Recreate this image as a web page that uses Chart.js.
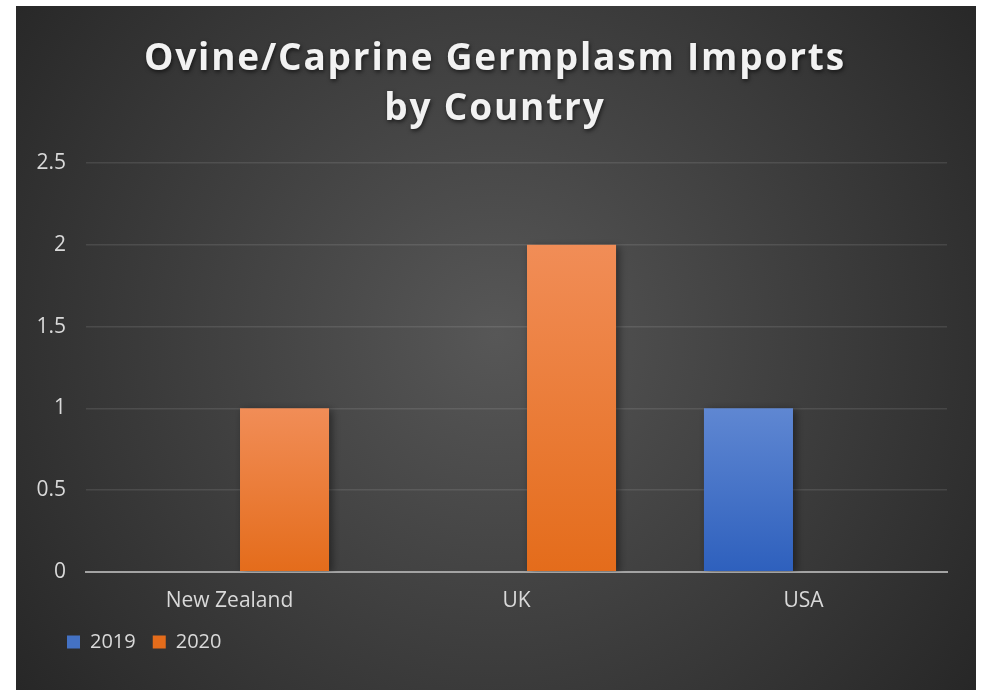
<!DOCTYPE html>
<html>
<head>
<meta charset="utf-8">
<script src="https://cdn.jsdelivr.net/npm/chart.js@4.4.0/dist/chart.umd.min.js"></script>
<style>
  body { margin: 0; background: #fff; }
  #wrap { position: absolute; left: 16px; top: 6px; width: 960px; height: 684px; }
</style>
</head>
<body>
<div id="wrap"><canvas id="importsChart"></canvas></div>
<script>
const categories = ["New Zealand", "UK", "USA"];
const imports2019 = [0, 0, 1];
const imports2020 = [1, 2, 0];
const yTicks = [0, 0.5, 1, 1.5, 2, 2.5];
const titleLines = ["Ovine/Caprine Germplasm Imports", "by Country"];

const FONT = "'Open Sans', 'DejaVu Sans', sans-serif";

// vertical gradient per bar, solid colour for the legend
function barFill(topColor, bottomColor, solid) {
  return (context) => {
    const chart = context.chart;
    if (!chart.chartArea || context.type !== "data") return solid;
    const y = chart.scales.y;
    const yTop = y.getPixelForValue(context.raw);
    const yBase = y.getPixelForValue(0);
    if (yBase - yTop < 1) return solid;
    const g = chart.ctx.createLinearGradient(0, yTop, 0, yBase);
    g.addColorStop(0, topColor);
    g.addColorStop(1, bottomColor);
    return g;
  };
}

// dark radial background
const background = {
  id: "background",
  beforeDraw(chart) {
    const { ctx, width, height } = chart;
    const g = ctx.createRadialGradient(width * 0.5, height * 0.48, 0, width * 0.5, height * 0.48, width * 0.62);
    g.addColorStop(0, "#575757");
    g.addColorStop(1, "#272727");
    ctx.save();
    ctx.fillStyle = g;
    ctx.fillRect(0, 0, width, height);
    ctx.restore();
  },
};

// soft shadow under the bars
const barShadow = {
  id: "barShadow",
  beforeDatasetsDraw(chart) {
    const ctx = chart.ctx;
    ctx.save();
    ctx.shadowColor = "rgba(0,0,0,0.45)";
    ctx.shadowBlur = 8;
    ctx.shadowOffsetX = 3;
    ctx.shadowOffsetY = 2;
  },
  afterDatasetsDraw(chart) {
    chart.ctx.restore();
  },
};

// move the legend a bit right and up, like the original
const legendNudge = {
  id: "legendNudge",
  afterLayout(chart) {
    const lg = chart.legend;
    if (!lg) return;
    lg.left += 34;
    lg.right += 34;
    lg.top -= 16;
    lg.bottom -= 16;
  },
};

// title with letter spacing and shadow
const spacedTitle = {
  id: "spacedTitle",
  afterDraw(chart) {
    const ctx = chart.ctx;
    ctx.save();
    ctx.font = "bold 37px " + FONT;
    ctx.fillStyle = "#f2f2f2";
    ctx.textAlign = "center";
    ctx.textBaseline = "middle";
    ctx.letterSpacing = "0px";
    const w = ctx.measureText(titleLines[0]).width;
    const spacing = Math.max(0, (702 - w) / titleLines[0].length);
    ctx.letterSpacing = spacing.toFixed(2) + "px";
    ctx.shadowColor = "rgba(0,0,0,0.6)";
    ctx.shadowBlur = 4;
    ctx.shadowOffsetX = 1;
    ctx.shadowOffsetY = 2;
    const cx = chart.width / 2 - 2 + spacing / 2;
    ctx.fillText(titleLines[0], cx, 53);
    ctx.fillText(titleLines[1], cx, 103);
    ctx.restore();
  },
};

new Chart(document.getElementById("importsChart"), {
  type: "bar",
  data: {
    labels: categories,
    datasets: [
      {
        label: "2019",
        data: imports2019,
        backgroundColor: barFill("#5f87d2", "#2e60bd", "#4472c4"),
        borderWidth: 0,
      },
      {
        label: "2020",
        data: imports2020,
        backgroundColor: barFill("#f18d57", "#e46c1b", "#ed7d31"),
        borderWidth: 0,
      },
    ],
  },
  options: {
    responsive: true,
    maintainAspectRatio: false,
    animation: false,
    categoryPercentage: 0.767,
    barPercentage: 0.809,
    layout: { padding: { top: 157, left: 0, right: 29, bottom: 12 } },
    plugins: {
      title: { display: false },
      tooltip: { enabled: false },
      legend: {
        position: "bottom",
        align: "start",
        labels: {
          boxWidth: 13,
          boxHeight: 13,
          padding: 17,
          color: "#d9d9d9",
          font: { family: FONT, size: 20 },
        },
      },
    },
    scales: {
      x: {
        grid: { display: false, drawTicks: false },
        border: { display: true, color: "#a3a3a3", width: 2 },
        ticks: { color: "#d9d9d9", padding: 17, font: { family: FONT, size: 21 } },
      },
      y: {
        min: 0,
        max: 2.5,
        afterFit(scale) {
          scale.width = 70;
        },
        afterBuildTicks(scale) {
          scale.ticks = yTicks.map((v) => ({ value: v }));
        },
        grid: {
          drawTicks: false,
          lineWidth: 1.5,
          color: (c) => (c.tick && c.tick.value === 0 ? "rgba(0,0,0,0)" : "rgba(255,255,255,0.1)"),
        },
        border: { display: false },
        ticks: {
          color: "#d9d9d9",
          padding: 20,
          font: { family: FONT, size: 21 },
          callback: (v) => String(v),
        },
      },
    },
  },
  plugins: [background, barShadow, legendNudge, spacedTitle],
});
</script>
</body>
</html>
